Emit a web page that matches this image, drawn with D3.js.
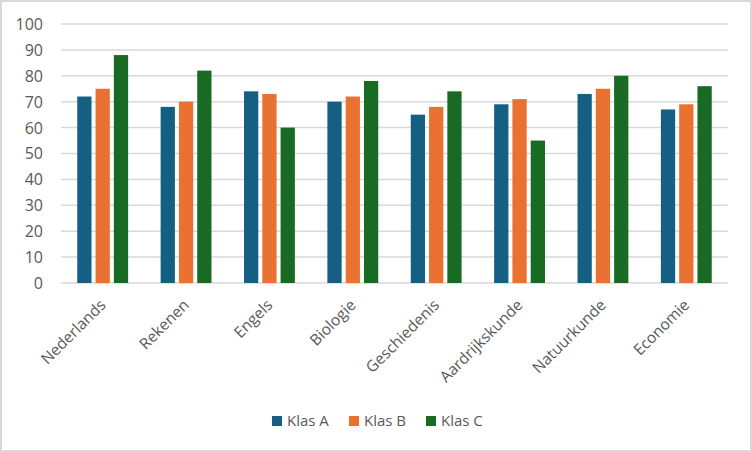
<!DOCTYPE html>
<html>
<head>
<meta charset="utf-8">
<script src="https://cdn.jsdelivr.net/npm/d3@7"></script>
<style>
  body { margin: 0; background: #fff; }
  text { font-family: "Open Sans", "Liberation Sans", sans-serif; fill: #595959; }
</style>
</head>
<body>
<div id="chart"></div>
<script>
const subjects = ["Nederlands", "Rekenen", "Engels", "Biologie", "Geschiedenis", "Aardrijkskunde", "Natuurkunde", "Economie"];
const seriesNames = ["Klas A", "Klas B", "Klas C"];
const klasA = [72, 68, 74, 70, 65, 69, 73, 67];
const klasB = [75, 70, 73, 72, 68, 71, 75, 69];
const klasC = [88, 82, 60, 78, 74, 55, 80, 76];
const yTicks = [0, 10, 20, 30, 40, 50, 60, 70, 80, 90, 100];
const colors = ["#156082", "#E97132", "#196B24"];

const W = 752, H = 452;
const plot = {left: 61, right: 728, top: 24, bottom: 283};

const svg = d3.select("#chart").append("svg")
    .attr("width", W)
    .attr("height", H);

// chart frame
svg.append("rect")
    .attr("x", 1).attr("y", 1)
    .attr("width", W - 2).attr("height", H - 2)
    .attr("fill", "#fff")
    .attr("stroke", "#d9d9d9")
    .attr("stroke-width", 2);

const rows = subjects.map((s, i) => ({subject: s, values: [klasA[i], klasB[i], klasC[i]]}));

const x0 = d3.scaleBand().domain(subjects)
    .range([plot.left, plot.right])
    .paddingInner(0.39).paddingOuter(0.195);
const x1 = d3.scaleBand().domain(seriesNames)
    .range([0, x0.bandwidth()])
    .paddingInner(0.22);
const y = d3.scaleLinear().domain([0, 100]).range([plot.bottom, plot.top]);

// gridlines
svg.append("g")
    .selectAll("line")
    .data(yTicks)
    .enter()
    .append("line")
      .attr("x1", plot.left).attr("x2", plot.right)
      .attr("y1", d => y(d)).attr("y2", d => y(d))
      .attr("stroke", "#d9d9d9")
      .attr("stroke-width", 1.5);

// y axis labels
const yAxis = svg.append("g")
    .attr("transform", "translate(" + (plot.left - 18) + ",0)")
    .call(d3.axisLeft(y).tickValues(yTicks).tickSize(0).tickPadding(0));
yAxis.select(".domain").remove();
yAxis.selectAll("text")
    .style("font-size", "16px")
    .attr("fill", "#595959")
    .attr("dy", "0.34em");

// bars
svg.append("g")
    .selectAll("g")
    .data(rows)
    .enter()
    .append("g")
      .attr("transform", d => "translate(" + x0(d.subject) + ",0)")
    .selectAll("rect")
    .data(d => d.values.map((v, i) => ({name: seriesNames[i], value: v, i: i})))
    .enter()
    .append("rect")
      .attr("x", d => x1(d.name))
      .attr("width", x1.bandwidth())
      .attr("y", d => y(d.value))
      .attr("height", d => y(0) - y(d.value))
      .attr("fill", d => colors[d.i]);

// x axis labels
const xAxis = svg.append("g")
    .attr("transform", "translate(0," + plot.bottom + ")")
    .call(d3.axisBottom(x0).tickSize(0).tickPadding(0));
xAxis.select(".domain").remove();
xAxis.selectAll("text")
    .style("font-size", "15.5px")
    .attr("fill", "#595959")
    .attr("text-anchor", "end")
    .attr("dy", "0")
    .attr("y", 0)
    .attr("transform", "translate(4,23) rotate(-45)");

// legend
const legend = svg.append("g")
    .attr("transform", "translate(272,421)");
const legendX = [0, 77, 154];
seriesNames.forEach((name, i) => {
  const g = legend.append("g").attr("transform", "translate(" + legendX[i] + ",0)");
  g.append("rect")
    .attr("x", 0).attr("y", -5)
    .attr("width", 10).attr("height", 10)
    .attr("fill", colors[i]);
  g.append("text")
    .attr("x", 15).attr("y", 0)
    .attr("dy", "0.35em")
    .style("font-size", "15px")
    .text(name);
});
</script>
</body>
</html>
